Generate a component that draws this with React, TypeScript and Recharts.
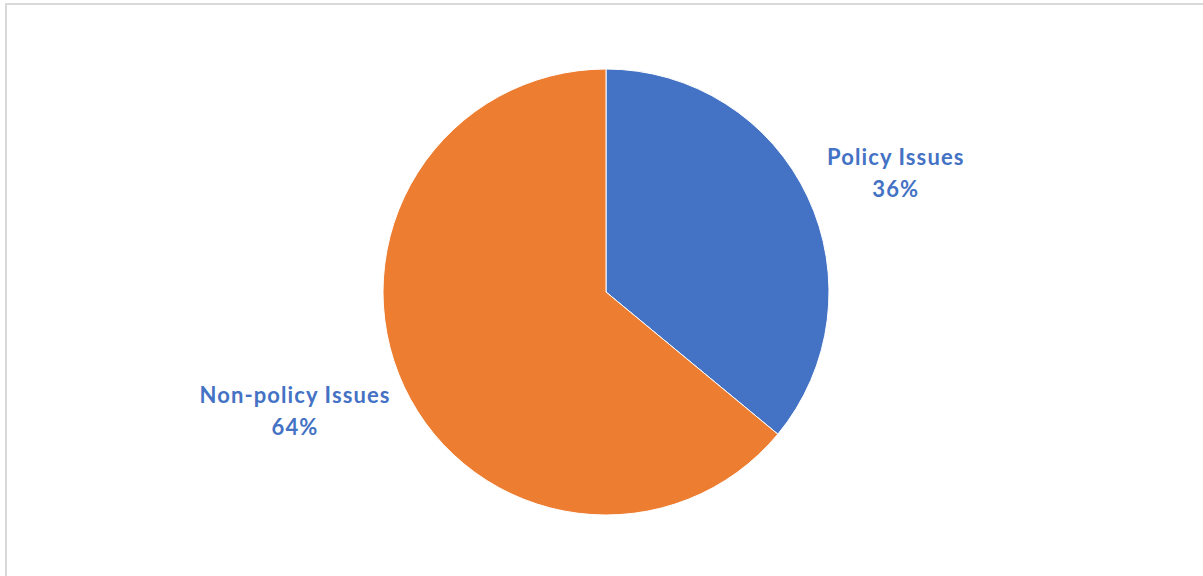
import React from "react";
import { PieChart, Pie, Cell } from "recharts";

const categories = ["Policy Issues", "Non-policy Issues"];
const values = [36, 64];
const colors = ["#4472C4", "#ED7D31"];

const data = categories.map((name, i) => ({ name, value: values[i] }));
const RAD = Math.PI / 180;

const renderLabel = (props: any) => {
  const { cx, cy, midAngle, outerRadius, name, percent } = props;
  const cos = Math.cos(-midAngle * RAD);
  const sin = Math.sin(-midAngle * RAD);
  const sign = cos >= 0 ? 1 : -1;
  const w = name.length * 10.6;
  const x = cx + (outerRadius + 20) * cos + sign * (w / 2 + 1);
  const y = cy + (outerRadius + 56) * sin;
  const pct = Math.round(percent * 100) + "%";
  return (
    <text
      x={x}
      y={y}
      textAnchor="middle"
      fill="#4472C4"
      fontFamily="Lato, 'Open Sans', sans-serif"
      fontWeight={700}
      fontSize={22}
      letterSpacing={1.1}
    >
      <tspan x={x} dy={-8}>{name}</tspan>
      <tspan x={x} dy={32}>{pct}</tspan>
    </text>
  );
};

export default function App() {
  return (
    <div style={{ position: "absolute", left: 0, top: 0, width: 1203, height: 576, overflow: "hidden", background: "#fff" }}>
      <div style={{ position: "absolute", left: 5, top: 3, width: 1198, height: 2, background: "#d9d9d9" }} />
      <div style={{ position: "absolute", left: 5, top: 3, width: 2, height: 573, background: "#d9d9d9" }} />
      <div style={{ position: "absolute", left: 0, top: 0 }}>
        <PieChart width={1203} height={576} margin={{ top: 0, right: 0, bottom: 0, left: 0 }}>
          <Pie
            data={data}
            dataKey="value"
            nameKey="name"
            cx={606}
            cy={292}
            outerRadius={223}
            startAngle={90}
            endAngle={-270}
            stroke="#ffffff"
            strokeWidth={1}
            label={renderLabel}
            labelLine={false}
            isAnimationActive={false}
          >
            {data.map((d, i) => (
              <Cell key={d.name} fill={colors[i]} />
            ))}
          </Pie>
        </PieChart>
      </div>
    </div>
  );
}
